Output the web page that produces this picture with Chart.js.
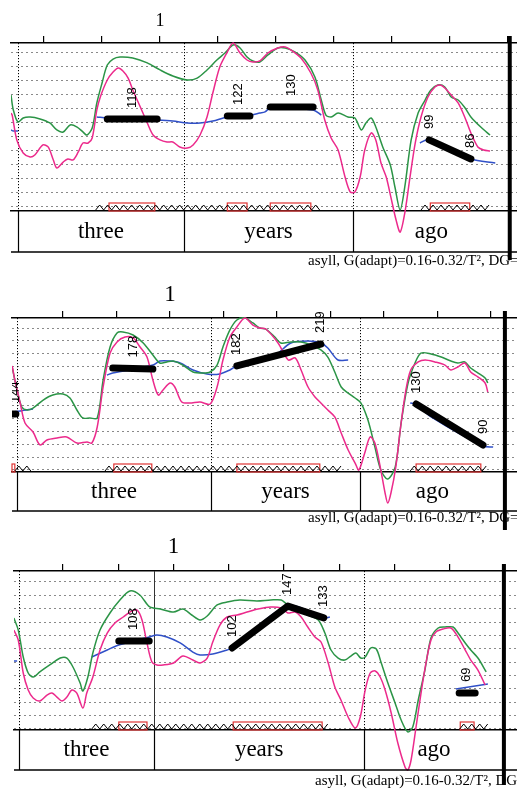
<!DOCTYPE html>
<html><head><meta charset="utf-8">
<script src="https://cdn.jsdelivr.net/npm/chart.js@4.4.1/dist/chart.umd.min.js"></script>
<style>
html,body{margin:0;padding:0;background:#fff;width:517px;height:790px;overflow:hidden;position:relative}
canvas{position:absolute;left:0;display:block}
</style></head>
<body>
<canvas id="c1" width="517" height="280" style="top:0;width:517px;height:280px"></canvas>
<canvas id="c2" width="517" height="250" style="top:280px;width:517px;height:250px"></canvas>
<canvas id="c3" width="517" height="260" style="top:530px;width:517px;height:260px"></canvas>
<script>
// ---------- shared ----------
const TICK_TIMES = [0.8, 0.9, 1.0, 1.1, 1.2, 1.3, 1.4, 1.5, 1.6];
const GRID_LEVELS = [1, 2, 3, 4, 5, 6, 7, 8, 9, 10, 11, 12];
const WORDS = ['three', 'years', 'ago'];
const CAPTION = 'asyll, G(adapt)=0.16-0.32/T\u00B2, DG=30';

// ---------- panel 1 ----------
const P1_PINK = [[0.743,7.71],[0.745,7.57],[0.753,5.79],[0.764,4.86],[0.776,4.57],[0.784,4.71],[0.798,5.43],[0.807,5.29],[0.816,4.36],[0.822,3.79],[0.833,4.21],[0.841,4.43],[0.850,4.36],[0.859,4.93],[0.867,5.57],[0.876,5.57],[0.883,5.93],[0.891,7.93],[0.897,8.86],[0.909,10.07],[0.919,10.64],[0.928,10.93],[0.936,10.71],[0.945,10.21],[0.953,9.36],[0.966,8.14],[0.978,7.0],[0.988,6.14],[1.0,5.79],[1.012,5.64],[1.022,5.64],[1.034,5.29],[1.047,5.21],[1.057,5.43],[1.069,6.14],[1.081,7.43],[1.091,9.14],[1.103,11.0],[1.116,12.07],[1.126,12.71],[1.138,12.0],[1.15,11.5],[1.16,11.36],[1.172,11.43],[1.186,12.0],[1.203,12.36],[1.216,12.43],[1.226,12.21],[1.243,11.64],[1.26,10.57],[1.272,9.36],[1.284,7.21],[1.295,5.93],[1.307,5.07],[1.319,3.14],[1.328,2.07],[1.336,2.07],[1.345,3.14],[1.353,5.07],[1.364,6.29],[1.372,5.79],[1.381,4.14],[1.39,3.14],[1.398,1.71],[1.407,0.07],[1.414,-0.79],[1.422,0.57],[1.431,3.14],[1.44,5.57],[1.45,7.43],[1.462,8.86],[1.474,9.57],[1.483,9.71],[1.491,9.5],[1.502,9.0],[1.514,8.43],[1.526,7.36],[1.536,6.29],[1.548,5.29],[1.558,5.07],[1.569,5.0]];
const P1_GREEN = [[0.743,9.0],[0.747,7.93],[0.755,7.07],[0.764,7.36],[0.776,7.43],[0.793,7.29],[0.810,7.0],[0.822,6.5],[0.833,6.36],[0.845,6.86],[0.857,6.71],[0.867,6.36],[0.874,6.14],[0.883,6.64],[0.891,8.43],[0.9,9.86],[0.909,11.14],[0.919,11.57],[0.931,11.71],[0.953,11.64],[0.978,11.29],[1.0,10.79],[1.022,10.36],[1.047,10.07],[1.064,10.21],[1.081,10.79],[1.098,11.5],[1.112,12.0],[1.126,12.57],[1.138,12.36],[1.15,11.71],[1.16,11.43],[1.172,11.36],[1.186,11.86],[1.203,12.36],[1.216,12.36],[1.233,12.07],[1.25,11.5],[1.267,10.29],[1.278,8.64],[1.286,7.57],[1.295,7.43],[1.307,7.71],[1.324,7.43],[1.336,7.36],[1.347,6.5],[1.355,7.0],[1.364,7.36],[1.372,6.71],[1.384,5.29],[1.397,4.0],[1.405,2.43],[1.414,0.79],[1.422,2.43],[1.433,5.79],[1.445,7.71],[1.457,8.64],[1.467,9.36],[1.479,9.71],[1.491,9.57],[1.502,8.86],[1.514,8.64],[1.526,8.07],[1.536,7.43],[1.553,6.71],[1.569,6.14]];
const P1_BLUE = [[0.743,6.5],[0.747,6.43],[0.755,6.43],[0.756,null],[0.891,7.43],[0.909,7.36],[0.995,7.21],[1.022,7.14],[1.047,7.0],[1.069,7.0],[1.091,7.14],[1.116,7.43],[1.155,7.57],[1.172,7.71],[1.181,7.79],[1.19,8.07],[1.264,7.93],[1.278,7.57],[1.28,null],[1.448,5.57],[1.462,5.79],[1.536,4.43],[1.578,4.14]];
const P1_TARGETS = [[[0.909,7.29],[0.995,7.29]],[[1.116,7.5],[1.155,7.5]],[[1.19,8.14],[1.264,8.14]],[[1.464,5.79],[1.536,4.43]]];
const P1_LABELS = [[0.952,7.29,'118'],[1.136,7.5,'122'],[1.227,8.14,'130'],[1.464,5.79,'99'],[1.536,4.43,'86']];
const P1_BOUNDS = [0.755, 1.041, 1.333, 1.603];
const P1_ZIGZAG = [[0.743,0.749],[0.889,1.278],[1.45,1.574]];
const P1_NUCLEI = [[0.912,0.991],[1.116,1.15],[1.19,1.26],[1.466,1.534]];

// ---------- panel 2 ----------
const P2_PINK = [[0.705,9.06],[0.710,7.97],[0.720,6.19],[0.729,4.64],[0.744,3.94],[0.757,2.94],[0.770,3.32],[0.789,3.48],[0.807,3.56],[0.826,3.09],[0.845,3.17],[0.854,3.09],[0.864,4.33],[0.875,7.43],[0.888,10.06],[0.901,10.92],[0.916,11.30],[0.931,11.23],[0.944,10.53],[0.957,9.75],[0.968,7.97],[0.978,6.81],[0.987,7.20],[1.0,7.74],[1.009,7.43],[1.022,6.27],[1.037,6.19],[1.056,6.27],[1.075,6.11],[1.088,7.43],[1.099,9.52],[1.112,11.30],[1.125,12.08],[1.140,12.77],[1.155,12.23],[1.168,12.0],[1.179,11.92],[1.202,10.84],[1.221,9.52],[1.234,9.68],[1.245,8.75],[1.258,7.43],[1.271,6.66],[1.282,6.19],[1.295,5.65],[1.308,5.11],[1.320,3.87],[1.333,2.55],[1.346,1.54],[1.353,1.0],[1.364,2.32],[1.374,3.56],[1.383,3.09],[1.393,1.23],[1.402,-0.78],[1.407,-1.56],[1.413,-0.78],[1.422,1.23],[1.432,4.64],[1.441,7.20],[1.450,8.75],[1.464,9.37],[1.477,9.52],[1.495,9.37],[1.514,9.13],[1.525,8.75],[1.538,8.98],[1.551,9.29],[1.562,8.59],[1.576,8.20],[1.589,7.74],[1.594,7.04]];
const P2_GREEN = [[0.705,8.98],[0.714,7.20],[0.723,5.88],[0.733,5.65],[0.744,5.80],[0.763,6.42],[0.781,6.81],[0.8,6.89],[0.813,6.58],[0.826,5.65],[0.837,5.03],[0.850,5.03],[0.864,5.03],[0.875,7.97],[0.888,10.53],[0.901,11.61],[0.912,11.69],[0.931,11.46],[0.950,10.84],[0.968,9.91],[0.981,9.29],[0.994,9.37],[1.006,9.44],[1.024,9.13],[1.043,8.59],[1.062,8.51],[1.075,8.59],[1.088,9.13],[1.099,10.53],[1.112,11.85],[1.125,12.62],[1.140,12.77],[1.155,12.39],[1.168,12.0],[1.179,11.92],[1.196,11.30],[1.207,10.84],[1.226,10.92],[1.245,10.92],[1.264,10.68],[1.282,10.30],[1.295,9.75],[1.308,8.59],[1.320,7.43],[1.333,6.96],[1.346,6.58],[1.357,6.19],[1.370,4.87],[1.383,2.78],[1.394,1.0],[1.407,0.30],[1.421,1.23],[1.432,4.64],[1.445,7.74],[1.458,9.29],[1.469,10.06],[1.488,9.99],[1.507,9.75],[1.525,9.44],[1.538,9.29],[1.551,9.37],[1.562,8.90],[1.576,8.51],[1.589,8.13],[1.594,7.74]];
const P2_BLUE = [[0.705,5.49],[0.720,5.57],[0.744,5.73],[0.745,null],[0.882,8.36],[0.893,8.51],[0.968,9.13],[0.981,9.44],[1.0,9.44],[1.019,9.29],[1.043,8.75],[1.069,8.44],[1.093,8.44],[1.112,8.75],[1.125,9.06],[1.196,9.91],[1.226,10.84],[1.258,10.99],[1.282,10.84],[1.295,10.45],[1.314,9.52],[1.333,9.52],[1.34,null],[1.449,6.19],[1.460,6.11],[1.488,5.11],[1.585,2.86],[1.604,2.78]];
const P2_TARGETS = [[[0.69,5.34],[0.712,5.34]],[[0.893,8.90],[0.968,8.82]],[[1.125,9.06],[1.282,10.76]],[[1.460,6.11],[1.585,2.94]]];
const P2_LABELS = [[0.712,5.34,'144'],[0.931,8.86,'178'],[1.125,9.06,'182'],[1.282,10.76,'219'],[1.460,6.11,'130'],[1.585,2.94,'90']];
const P2_BOUNDS = [0.714, 1.077, 1.355, 1.626];
const P2_ZIGZAG = [[0.710,0.744],[0.8785,1.327],[1.449,1.598]];
const P2_NUCLEI = [[0.703,0.710],[0.895,0.966],[1.125,1.28],[1.46,1.581]];

// ---------- panel 3 ----------
const P3_PINK = [[0.711,8.41],[0.719,7.66],[0.728,5.19],[0.737,3.92],[0.746,3.32],[0.758,3.10],[0.771,3.54],[0.780,3.69],[0.789,3.39],[0.798,3.10],[0.807,3.39],[0.816,3.92],[0.825,3.69],[0.836,2.57],[0.843,3.69],[0.854,4.89],[0.867,6.91],[0.880,8.18],[0.894,8.93],[0.909,9.38],[0.921,9.75],[0.934,9.90],[0.943,9.16],[0.952,7.44],[0.961,6.01],[0.970,5.79],[0.981,5.79],[1.0,5.94],[1.017,6.46],[1.035,6.16],[1.048,5.94],[1.061,6.31],[1.071,7.51],[1.084,8.78],[1.097,9.38],[1.115,9.53],[1.133,9.75],[1.153,9.98],[1.176,10.13],[1.195,10.05],[1.207,9.68],[1.220,9.75],[1.231,9.38],[1.243,8.63],[1.256,7.88],[1.267,7.51],[1.280,5.94],[1.292,4.14],[1.303,3.17],[1.316,1.90],[1.329,1.07],[1.338,1.90],[1.347,3.92],[1.356,5.19],[1.365,5.34],[1.374,4.89],[1.383,3.92],[1.394,2.20],[1.406,-0.05],[1.419,-1.84],[1.424,-2.07],[1.430,-1.32],[1.439,1.15],[1.448,3.69],[1.457,5.94],[1.466,7.66],[1.475,8.26],[1.488,8.48],[1.502,8.56],[1.515,7.88],[1.528,6.91],[1.538,6.16],[1.551,5.41],[1.564,4.29]];
const P3_GREEN = [[0.711,9.31],[0.719,8.41],[0.728,6.39],[0.737,5.19],[0.746,4.89],[0.758,5.27],[0.776,5.79],[0.795,6.31],[0.807,6.31],[0.818,5.64],[0.831,4.44],[0.836,3.84],[0.845,4.89],[0.854,6.69],[0.867,8.41],[0.885,9.68],[0.903,10.65],[0.921,11.33],[0.939,11.03],[0.957,10.13],[0.976,9.98],[1.0,9.75],[1.017,9.98],[1.033,9.53],[1.048,9.16],[1.061,9.46],[1.079,10.28],[1.097,10.50],[1.120,10.65],[1.151,10.58],[1.176,10.65],[1.195,10.65],[1.207,10.28],[1.225,10.05],[1.243,9.53],[1.262,9.16],[1.274,8.18],[1.285,6.91],[1.298,6.31],[1.310,6.16],[1.321,6.46],[1.330,6.69],[1.339,6.31],[1.347,6.39],[1.357,7.06],[1.367,6.99],[1.376,5.94],[1.388,4.44],[1.401,2.95],[1.412,1.67],[1.424,0.78],[1.433,1.15],[1.443,3.17],[1.455,5.41],[1.466,7.81],[1.479,8.56],[1.491,8.63],[1.506,8.63],[1.515,8.18],[1.528,7.44],[1.538,6.91],[1.551,6.31],[1.566,5.27]];
const P3_BLUE = [[0.711,6.09],[0.717,6.09],[0.718,null],[0.852,6.39],[0.880,6.91],[0.901,7.29],[0.956,7.88],[0.970,8.03],[0.988,7.88],[1.012,7.44],[1.035,6.76],[1.048,6.54],[1.071,6.61],[1.097,6.91],[1.106,7.06],[1.207,10.20],[1.272,9.31],[1.283,9.38],[1.284,null],[1.511,3.99],[1.569,4.37]];
const P3_TARGETS = [[[0.901,7.58],[0.956,7.58]],[[1.106,7.06],[1.207,10.20],[1.272,9.31]],[[1.517,3.69],[1.546,3.69]]];
const P3_LABELS = [[0.928,7.58,'108'],[1.106,7.06,'102'],[1.207,10.20,'147'],[1.272,9.31,'133'],[1.531,3.69,'69']];
const P3_BOUNDS = [0.720, 0.965, 1.345, 1.598];
const P3_ZIGZAG = [[0.852,1.280],[1.518,1.569]];
const P3_NUCLEI = [[0.901,0.952],[1.108,1.269],[1.519,1.544]];

// ---------- layout / style (not data) ----------
const PINK = '#ec2a8c', GREEN = '#2b9446', BLUE = '#3050c8';
const PANELS = [
  {canvas:'c1', xRange:[0.743,1.6155], yRange:[0.714,12.714], padLeft:11, padBottom:69, axisH:43, tickFont:18, tickPad:4, tierH:41, sepExt:8, capX:308, capY:265, solid:[],
   pink:P1_PINK, green:P1_GREEN, blue:P1_BLUE, targets:P1_TARGETS, labels:P1_LABELS, bounds:P1_BOUNDS, zigzag:P1_ZIGZAG, nuclei:P1_NUCLEI},
  {canvas:'c2', xRange:[0.7047,1.6486], yRange:[0.845,12.775], padLeft:12, padBottom:58, axisH:38, tickFont:23, tickPad:2, tierH:39, sepExt:19, capX:308, capY:242, solid:[],
   pink:P2_PINK, green:P2_GREEN, blue:P2_BLUE, targets:P2_TARGETS, labels:P2_LABELS, bounds:P2_BOUNDS, zigzag:P2_ZIGZAG, nuclei:P2_NUCLEI},
  {canvas:'c3', xRange:[0.7113,1.6217], yRange:[0.925,12.823], padLeft:14, padBottom:60, axisH:41, tickFont:23, tickPad:3, tierH:40, sepExt:15, capX:315, capY:255, solid:[1],
   pink:P3_PINK, green:P3_GREEN, blue:P3_BLUE, targets:P3_TARGETS, labels:P3_LABELS, bounds:P3_BOUNDS, zigzag:P3_ZIGZAG, nuclei:P3_NUCLEI}
];
const CLIP = {left: 0, right: 0, top: false, bottom: false};

function makePlugin(P) {
  return {
    id: 'praat_' + P.canvas,
    beforeDatasetsDraw(chart) {
      const {ctx, chartArea: a} = chart;
      const xs = chart.scales.x;
      const px = t => xs.getPixelForValue(t);
      ctx.save();
      // boundaries inside the plot (dotted)
      P.bounds.slice(0, -1).forEach((t, i) => {
        const X = Math.round(px(t)) + 0.5;
        const solid = P.solid.includes(i);
        ctx.setLineDash(solid ? [] : [1.2, 1.8]);
        ctx.strokeStyle = solid ? '#333' : '#000';
        ctx.lineWidth = 1;
        ctx.beginPath(); ctx.moveTo(X, a.top); ctx.lineTo(X, a.bottom); ctx.stroke();
      });
      ctx.setLineDash([]);
      // syllable nuclei boxes
      ctx.strokeStyle = '#e03434'; ctx.lineWidth = 1.2;
      P.nuclei.forEach(([s, e]) => {
        const x0 = Math.max(px(s), a.left);
        ctx.strokeRect(x0, a.bottom - 8, px(e) - x0, 8);
      });
      // zigzag
      ctx.strokeStyle = '#000'; ctx.lineWidth = 1;
      P.zigzag.forEach(([s, e]) => {
        const x0 = Math.max(px(s), a.left), x1 = px(e);
        ctx.beginPath();
        let k = 0;
        for (let X = x0; X <= x1 + 0.01; X += 4, k++) {
          const Y = a.bottom - 3.5 + (k % 2 ? -2.5 : 2.5);
          if (k) ctx.lineTo(X, Y); else ctx.moveTo(X, Y);
        }
        ctx.stroke();
      });
      ctx.restore();
    },
    afterDatasetsDraw(chart) {
      const {ctx, chartArea: a} = chart;
      const xs = chart.scales.x, ys = chart.scales.y;
      const px = t => xs.getPixelForValue(t);
      const tierB = a.bottom + P.tierH;
      ctx.save();
      // value labels (rotated)
      ctx.save();
      ctx.beginPath(); ctx.rect(a.left, 0, chart.width - a.left, chart.height); ctx.clip();
      ctx.font = '13px "Liberation Sans", Arial, sans-serif';
      ctx.fillStyle = '#000'; ctx.textAlign = 'left'; ctx.textBaseline = 'middle';
      P.labels.forEach(([t, v, txt]) => {
        ctx.save();
        ctx.translate(px(t), ys.getPixelForValue(v) - 11);
        ctx.rotate(-Math.PI / 2);
        ctx.fillText(txt, 0, 0);
        ctx.restore();
      });
      ctx.restore();
      // word tier
      ctx.strokeStyle = '#000';
      ctx.lineWidth = 1.5;
      ctx.beginPath(); ctx.moveTo(a.left, tierB); ctx.lineTo(chart.width, tierB); ctx.stroke();
      ctx.lineWidth = 1.2;
      P.bounds.slice(0, -1).forEach(t => {
        const X = Math.round(px(t)) + 0.5;
        ctx.beginPath(); ctx.moveTo(X, a.bottom); ctx.lineTo(X, tierB); ctx.stroke();
      });
      ctx.font = '23px "Liberation Serif", "Times New Roman", serif';
      ctx.fillStyle = '#000'; ctx.textAlign = 'center'; ctx.textBaseline = 'middle';
      WORDS.forEach((w, i) => {
        const xm = (px(P.bounds[i]) + px(P.bounds[i + 1])) / 2;
        ctx.fillText(w, xm, (a.bottom + tierB) / 2);
      });
      // thick separator
      const XS = px(P.bounds[P.bounds.length - 1]);
      ctx.lineWidth = 4;
      ctx.beginPath(); ctx.moveTo(XS, a.top - 7); ctx.lineTo(XS, tierB + P.sepExt); ctx.stroke();
      // caption
      ctx.font = '15px "Liberation Serif", "Times New Roman", serif';
      ctx.textAlign = 'left'; ctx.textBaseline = 'alphabetic';
      ctx.fillText(CAPTION, P.capX, P.capY);
      ctx.restore();
    }
  };
}

function build(P) {
  const pts = arr => arr.map(([x, y]) => ({x, y}));
  const curve = (d, color) => ({data: pts(d), borderColor: color, borderWidth: 1.5, tension: 0.3, showLine: true,
    pointRadius: 0, pointHoverRadius: 0, spanGaps: false, clip: CLIP});
  const datasets = [
    ...P.targets.map(seg => ({data: pts(seg), borderColor: '#000', borderWidth: 7, borderCapStyle: 'round',
      borderJoinStyle: 'round', tension: 0, showLine: true, pointRadius: 0, pointHoverRadius: 0, clip: CLIP})),
    curve(P.pink, PINK), curve(P.green, GREEN), curve(P.blue, BLUE)
  ];
  return new Chart(document.getElementById(P.canvas), {
    type: 'scatter',
    data: {datasets},
    options: {
      responsive: false, maintainAspectRatio: false, animation: false, events: [],
      layout: {padding: {left: P.padLeft, right: 0, top: 0, bottom: P.padBottom}, autoPadding: false},
      elements: {line: {capBezierPoints: false}},
      plugins: {legend: {display: false}, tooltip: {enabled: false}},
      scales: {
        x: {
          type: 'linear', position: 'top', min: P.xRange[0], max: P.xRange[1],
          afterBuildTicks: s => { s.ticks = TICK_TIMES.map(v => ({value: v})); },
          afterFit: s => { s.height = P.axisH; },
          ticks: {autoSkip: false, maxRotation: 0, minRotation: 0, padding: P.tickPad, color: '#000',
            font: {family: '"Liberation Serif", "Times New Roman", serif', size: P.tickFont},
            callback: v => (v === 1 ? '1' : '')},
          grid: {drawOnChartArea: false, drawTicks: true, tickLength: 7, color: '#000', lineWidth: 1.2},
          border: {display: true, color: '#000', width: 1.5}
        },
        x2: {
          type: 'linear', axis: 'x', position: 'bottom', min: P.xRange[0], max: P.xRange[1],
          ticks: {display: false}, grid: {display: false, drawTicks: false},
          border: {display: true, color: '#000', width: 1.5},
          afterFit: s => { s.height = 0; }
        },
        y: {
          type: 'linear', position: 'left', min: P.yRange[0], max: P.yRange[1],
          afterBuildTicks: s => { s.ticks = GRID_LEVELS.map(v => ({value: v})); },
          afterFit: s => { s.width = 0; },
          ticks: {display: false},
          grid: {drawTicks: false, color: '#8a8a8a', lineWidth: 1},
          border: {display: false, dash: [2, 3]}
        }
      }
    },
    plugins: [makePlugin(P)]
  });
}

PANELS.forEach(build);
</script>
</body></html>
